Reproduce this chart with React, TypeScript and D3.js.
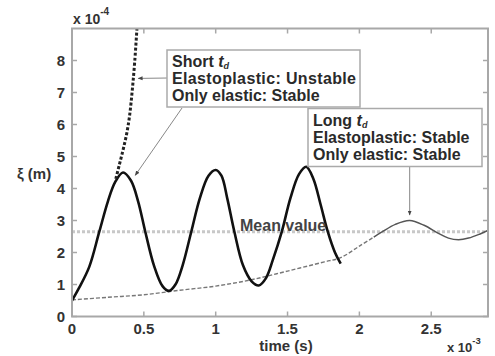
import React from "react";
import * as d3 from "d3";

// time in units of 1e-3 s, displacement in units of 1e-4 m
const xTicks = [0, 0.5, 1, 1.5, 2, 2.5];
const yTicks = [0, 1, 2, 3, 4, 5, 6, 7, 8];
const meanValue = 2.65;

// short t_d, only elastic (stable oscillation)
const elasticT = [0, 0.05, 0.12, 0.19, 0.25, 0.3, 0.355, 0.41, 0.46, 0.51, 0.57, 0.63, 0.675, 0.72, 0.77, 0.83, 0.89, 0.95, 1.0, 1.04, 1.08, 1.13, 1.19, 1.25, 1.3, 1.35, 1.4, 1.46, 1.52, 1.58, 1.63, 1.68, 1.73, 1.78, 1.83, 1.87];
const elasticY = [0.5, 0.9, 1.55, 2.65, 3.6, 4.2, 4.5, 4.25, 3.6, 2.65, 1.6, 0.95, 0.8, 1.0, 1.6, 2.65, 3.7, 4.4, 4.58, 4.4, 3.7, 2.65, 1.6, 1.1, 0.97, 1.2, 1.8, 2.65, 3.7, 4.45, 4.68, 4.3, 3.5, 2.65, 2.0, 1.65];

// short t_d, elastoplastic (unstable)
const plasticT = [0.305, 0.33, 0.355, 0.38, 0.4, 0.42, 0.437, 0.452];
const plasticY = [4.3, 4.75, 5.2, 5.7, 6.25, 7.1, 8.0, 9.0];

// long t_d
const longDashT = [0, 0.25, 0.5, 0.75, 1.0, 1.25, 1.5, 1.75, 1.87, 2.0, 2.1];
const longDashY = [0.52, 0.6, 0.68, 0.82, 0.95, 1.15, 1.42, 1.7, 1.84, 2.2, 2.48];
const longSolidT = [2.1, 2.16, 2.25, 2.35, 2.45, 2.55, 2.62, 2.69, 2.76, 2.84, 2.9];
const longSolidY = [2.48, 2.65, 2.88, 3.0, 2.85, 2.6, 2.45, 2.4, 2.45, 2.58, 2.7];

const shortLines = ["Elastoplastic: Unstable", "Only elastic: Stable"];
const longLines = ["Elastoplastic: Stable", "Only elastic: Stable"];

const W = 495;
const H = 356;
const left = 72;
const right = 488;
const top = 28.5;
const bottom = 316.5;
const font = "'Liberation Sans', Arial, sans-serif";
const axisColor = "#a8a8a8";

const zip = (a: number[], b: number[]) => a.map((v, i) => [v, b[i]] as [number, number]);

export default function App() {
  const x = d3.scaleLinear().domain([0, 2.895]).range([left, right]);
  const y = d3.scaleLinear().domain([0, 9]).range([bottom, top]);
  const line = d3
    .line<[number, number]>()
    .x((d) => x(d[0]))
    .y((d) => y(d[1]))
    .curve(d3.curveCatmullRom.alpha(0.5));

  const arrows = [
    { from: [168, 78], to: [x(0.46), y(7.44)] },
    { from: [182, 108], to: [x(0.44), y(4.41)] },
    { from: [x(2.35), 167], to: [x(2.35), y(3.17)] },
  ];

  const boxText = (bx: number, by: number, word: string, lines: string[]) => (
    <g fontFamily={font} fontWeight="bold" fontSize={16} fill="#2a2a2a">
      <text x={bx} y={by}>
        {word} <tspan fontStyle="italic">t</tspan>
        <tspan fontSize={9} dy={2} fontStyle="italic">d</tspan>
      </text>
      {lines.map((l, i) => (
        <text key={l} x={bx} y={by + 16.8 * (i + 1)} textLength={l.length > 21 ? 184 : undefined}>
          {l}
        </text>
      ))}
    </g>
  );

  return (
    <div style={{ position: "absolute", left: 0, top: 0 }}>
      <svg width={W} height={H} style={{ display: "block", background: "#fff" }}>
        <defs>
          <clipPath id="plot">
            <rect x={left} y={top} width={right - left} height={bottom - top} />
          </clipPath>
          <marker id="ah" viewBox="0 0 10 10" refX={9} refY={5} markerWidth={5} markerHeight={5} orient="auto">
            <path d="M0,1 L10,5 L0,9 z" fill="#444" />
          </marker>
        </defs>

        {/* mean value */}
        <line x1={left} x2={right} y1={y(meanValue)} y2={y(meanValue)} stroke="#c8c8c8" strokeWidth={3} strokeDasharray="3,2" />

        <g clipPath="url(#plot)" fill="none">
          <path d={line(zip(longDashT, longDashY)) ?? ""} stroke="#777" strokeWidth={1.4} strokeDasharray="4,2" />
          <path d={line(zip(longSolidT, longSolidY)) ?? ""} stroke="#555" strokeWidth={1.5} />
          <path d={line(zip(elasticT, elasticY)) ?? ""} stroke="#111" strokeWidth={2.6} />
          <path d={line(zip(plasticT, plasticY)) ?? ""} stroke="#222" strokeWidth={3} strokeDasharray="3,2" />
        </g>

        {/* axes box */}
        <rect x={left} y={top} width={right - left} height={bottom - top} fill="none" stroke={axisColor} strokeWidth={2} />
        {xTicks.map((t) => (
          <g key={"x" + t} stroke={axisColor} strokeWidth={1.5}>
            <line x1={x(t)} x2={x(t)} y1={bottom} y2={bottom - 5} />
            <line x1={x(t)} x2={x(t)} y1={top} y2={top + 5} />
          </g>
        ))}
        {yTicks.map((t) => (
          <g key={"y" + t} stroke={axisColor} strokeWidth={1.5}>
            <line x1={left} x2={left + 5} y1={y(t)} y2={y(t)} />
            <line x1={right} x2={right - 5} y1={y(t)} y2={y(t)} />
          </g>
        ))}

        <g fontFamily={font} fontWeight="bold" fontSize={15} fill="#333">
          {xTicks.map((t) => (
            <text key={"xl" + t} x={x(t)} y={334} textAnchor="middle">
              {String(t)}
            </text>
          ))}
          {yTicks.map((t) => (
            <text key={"yl" + t} x={65} y={y(t) + 5.5} textAnchor="end">
              {String(t)}
            </text>
          ))}
          <text x={286} y={351} textAnchor="middle">time (s)</text>
          <text x={17} y={179}>ξ (m)</text>
          <text x={73} y={24} fontSize={14}>
            x 10<tspan fontSize={10} dy={-9}>-4</tspan>
          </text>
          <text x={447} y={352} fontSize={13}>
            x 10<tspan fontSize={9.5} dy={-8}>-3</tspan>
          </text>
        </g>

        {/* mean value label */}
        <text x={240} y={231} fontFamily={font} fontWeight="bold" fontSize={16} fill="#444">
          Mean value
        </text>

        {/* annotations */}
        {arrows.map((a, i) => (
          <line key={i} x1={a.from[0]} y1={a.from[1]} x2={a.to[0]} y2={a.to[1]} stroke="#888" strokeWidth={1} markerEnd="url(#ah)" />
        ))}
        <rect x={167} y={50} width={193} height={57} fill="#fff" stroke="#aaa" strokeWidth={1.5} />
        {boxText(172, 67, "Short", shortLines)}
        <rect x={308} y={108.5} width={174} height={58} fill="#fff" stroke="#aaa" strokeWidth={1.5} />
        {boxText(313, 126, "Long", longLines)}
      </svg>
    </div>
  );
}
